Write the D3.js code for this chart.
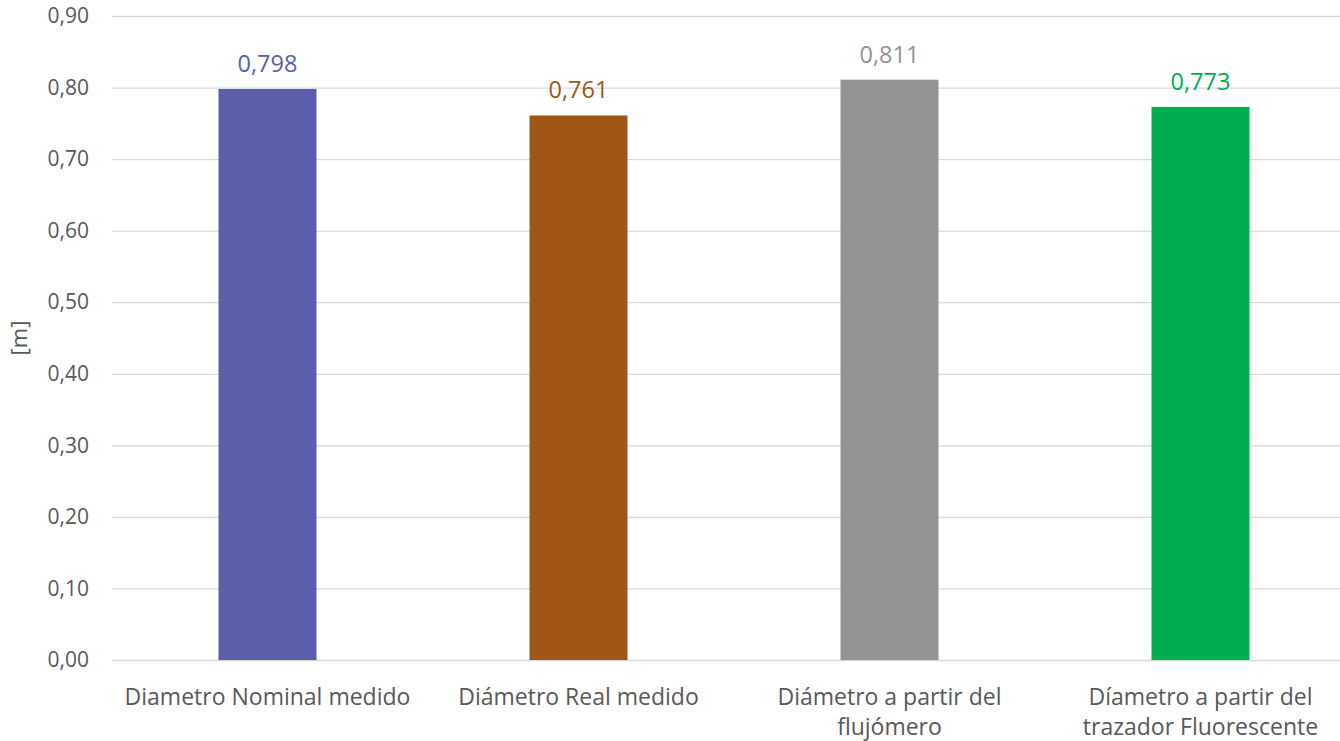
<!DOCTYPE html>
<html>
<head>
<meta charset="utf-8">
<script src="https://cdn.jsdelivr.net/npm/d3@7"></script>
<style>
  html, body { margin: 0; padding: 0; background: #fff; }
  svg { display: block; font-family: "Open Sans", sans-serif; }
</style>
</head>
<body>
<svg id="chart" width="1340" height="741"></svg>
<script>
// Measured diameters [m]
const categories = [
  ["Diametro Nominal medido"],
  ["Diámetro Real medido"],
  ["Diámetro a partir del", "flujómero"],
  ["Díametro a partir del", "trazador Fluorescente"]
];
const values = [0.798, 0.761, 0.811, 0.773];
const valueLabels = ["0,798", "0,761", "0,811", "0,773"];
const barColors = ["#5B5EA8", "#A05716", "#939393", "#00AD4F"];
const yTicks = [0, 0.1, 0.2, 0.3, 0.4, 0.5, 0.6, 0.7, 0.8, 0.9];
const yTitle = "[m]";

const svg = d3.select("#chart");
const W = 1340, H = 741;
const plotLeft = 112, step = 311;
const plotTop = 16, plotBottom = 660;

const keys = categories.map((c, i) => i);
const x = d3.scaleBand()
  .domain(keys)
  .range([plotLeft, plotLeft + step * categories.length])
  .paddingInner(0.685)
  .paddingOuter(0.3425);

const y = d3.scaleLinear().domain([0, 0.9]).range([plotBottom, plotTop]);

// Gridlines and tick labels
const yAxis = d3.axisLeft(y)
  .tickValues(yTicks)
  .tickFormat(d => d3.format(".2f")(d).replace(".", ","))
  .tickSize(-(W - plotLeft))
  .tickPadding(23);

const gy = svg.append("g")
  .attr("transform", `translate(${plotLeft},0)`)
  .call(yAxis);
gy.select(".domain").remove();
gy.selectAll(".tick line").attr("stroke", "#d9d9d9").attr("stroke-width", 1.3);
gy.selectAll(".tick text")
  .attr("fill", "#595959")
  .attr("font-size", 21)
  .attr("font-family", "Open Sans, sans-serif");

// Bars
svg.append("g").selectAll("rect")
  .data(values)
  .join("rect")
  .attr("x", (d, i) => x(i))
  .attr("width", x.bandwidth())
  .attr("y", d => y(d))
  .attr("height", d => y(0) - y(d))
  .attr("fill", (d, i) => barColors[i]);

// Value labels
svg.append("g").selectAll("text")
  .data(values)
  .join("text")
  .attr("x", (d, i) => x(i) + x.bandwidth() / 2)
  .attr("y", d => y(d) - 17)
  .attr("text-anchor", "middle")
  .attr("font-size", 23.5)
  .attr("fill", (d, i) => barColors[i])
  .text((d, i) => valueLabels[i]);

// Category labels
const cat = svg.append("g").selectAll("text")
  .data(categories)
  .join("text")
  .attr("x", (d, i) => x(i) + x.bandwidth() / 2)
  .attr("y", 705)
  .attr("text-anchor", "middle")
  .attr("font-size", 23)
  .attr("fill", "#595959");
cat.selectAll("tspan")
  .data(d => d)
  .join("tspan")
  .attr("x", function () { return d3.select(this.parentNode).attr("x"); })
  .attr("dy", (d, j) => j === 0 ? 0 : 30)
  .text(d => d);

// Axis title
svg.append("text")
  .attr("transform", `translate(27,${(plotTop + plotBottom) / 2}) rotate(-90)`)
  .attr("text-anchor", "middle")
  .attr("font-size", 22)
  .attr("fill", "#595959")
  .text(yTitle);
</script>
</body>
</html>
